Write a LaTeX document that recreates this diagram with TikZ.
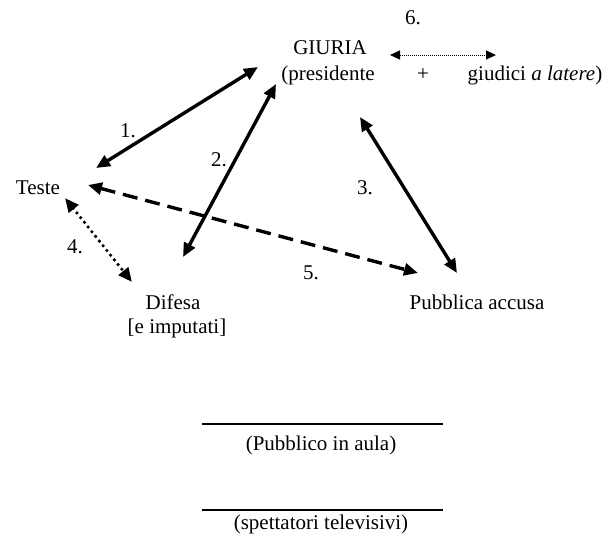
\documentclass[tikz,border=0pt]{standalone}
\usepackage{fontspec}
\setmainfont{Liberation Serif}
\usetikzlibrary{arrows.meta}

\begin{document}
\begin{tikzpicture}[x=1pt, y=-1pt, >={Triangle[length=14pt,width=12pt]}, font=\fontsize{21}{25}\selectfont]

  \tikzstyle{T}=[inner sep=1pt]
  \tikzstyle{N}=[inner sep=1pt]
  \tikzstyle{A}=[<->, line width=3.4pt]

  \useasboundingbox (0,0) rectangle (609,538);

  \node[T] at (330,48) (giuria) {GIURIA};
  \node[T] at (328,75) (pres) {(presidente};
  \node[T] at (423,75) (piu) {+};
  \node[T] at (535,75) (giudici) {giudici \textit{a latere})};
  \node[T] at (38,188) (teste) {Teste};
  \node[T] at (173,302) (difesa) {Difesa};
  \node[T] at (177,328) (imputati) {[e imputati]};
  \node[T] at (477,302) (pm) {Pubblica accusa};

  \node[N] at (413,18) (n6) {6.};
  \node[N] at (128,131) (n1) {1.};
  \node[N] at (219,160) (n2) {2.};
  \node[N] at (365,188) (n3) {3.};
  \node[N] at (75,247) (n4) {4.};
  \node[N] at (311,273) (n5) {5.};

  \node[T] at (321,445) (pubblico) {(Pubblico in aula)};
  \node[T] at (321,524) (spettatori) {(spettatori televisivi)};

  \draw [A] ([shift={(58,-20)}]teste.center) to ([shift={(-70,-8)}]pres.center);
  \draw [A] ([shift={(10,-45)}]difesa.center) to ([shift={(-52,9)}]pres.center);
  \draw [A] ([shift={(32,42)}]pres.center) to ([shift={(-20,-29)}]pm.center);
  \draw [A, line width=3.6pt, line cap=round, dash pattern=on 0pt off 6pt] ([shift={(27,10)}]teste.center) to ([shift={(-41,-20)}]difesa.center);
  \draw [A, line cap=butt, dash pattern=on 15pt off 8pt] ([shift={(50,-3)}]teste.center) to ([shift={(-59,-29)}]pm.center);
  \draw [<->, >={Triangle[length=10pt,width=9pt]}, line width=1pt, dash pattern=on 1pt off 1pt] ([shift={(60,7)}]giuria.center) to ([shift={(-39,-20)}]giudici.center);

  \draw [line width=1.2pt] ([shift={(-119,-21)}]pubblico.center) to ([shift={(122,-21)}]pubblico.center);
  \draw [line width=1.2pt] ([shift={(-119,-14)}]spettatori.center) to ([shift={(122,-14)}]spettatori.center);

\end{tikzpicture}
\end{document}
